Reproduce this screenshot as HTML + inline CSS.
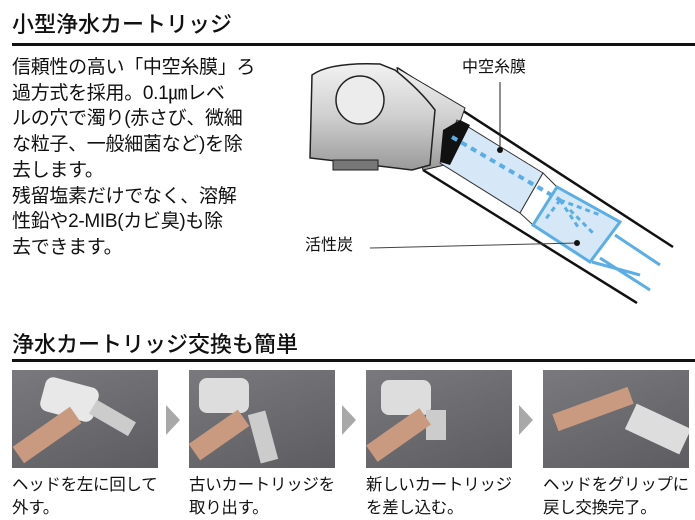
<!DOCTYPE html>
<html><head><meta charset="utf-8"><style>
body{margin:0;width:695px;height:519px;background:#fff;position:relative;overflow:hidden;font-family:"Liberation Sans","Noto Sans CJK JP",sans-serif;color:#111}
.a{position:absolute;white-space:nowrap}
.h{font-size:22px;font-weight:500}
.rule{position:absolute;left:12px;right:0;height:3px;background:#111}
.body{left:12px;top:55px;font-size:19px;line-height:25.7px;letter-spacing:-0.3px}
.ph{position:absolute;top:370px;height:98px;width:146px;background:linear-gradient(160deg,#7a7a7e,#5c5c61);overflow:hidden}
.cap{position:absolute;top:474px;font-size:16.5px;line-height:23px;white-space:nowrap;letter-spacing:-0.3px}
.arr{position:absolute;top:405px;width:0;height:0;border-top:15px solid transparent;border-bottom:15px solid transparent;border-left:14px solid #a8a8a8}
</style></head><body>
<div class="a h" style="left:12px;top:7px">小型浄水カートリッジ</div>
<div class="rule" style="top:43px"></div>
<div class="a body">信頼性の高い「中空糸膜」ろ<br>過方式を採用。0.1㎛レベ<br>ルの穴で濁り(赤さび、微細<br>な粒子、一般細菌など)を除<br>去します。<br>残留塩素だけでなく、溶解<br>性鉛や2-MIB(カビ臭)も除<br>去できます。</div>

<svg class="a" style="left:0;top:0" width="695" height="330" viewBox="0 0 695 330">
<defs><linearGradient id="g" x1="0" y1="0" x2="0" y2="1"><stop offset="0" stop-color="#f2f2f2"/><stop offset=".5" stop-color="#cfcfcf"/><stop offset="1" stop-color="#9a9a9a"/></linearGradient></defs>
<path d="M397,68 L673,247 M423,170 L637,303" stroke="#111" stroke-width="2.5" fill="none"/>
<path d="M397,68 L465,108 L445,165 L423,170 Z" fill="url(#g)" stroke="#222"/>
<path d="M312,75 Q330,62 380,64 L395,70 Q420,90 435,110 L430,165 L412,170 L345,162 L310,158 Z" fill="url(#g)" stroke="#222" stroke-width="1.5"/>
<circle cx="360" cy="100" r="24" fill="#ececec" stroke="#222" stroke-width="1.5"/>
<rect x="333" y="160" width="45" height="10" fill="#777" stroke="#222"/>
<path d="M457,120 L543,173 L520,213 L440,163 Z" fill="#d6e8f7" stroke="#333"/>
<path d="M443,130 L460,120 L470,125 L450,165 L440,162 Z" fill="#111"/>
<path d="M543,173 L557,187 L533,225 L520,213 Z" fill="#fff" stroke="#333"/>
<path d="M557,187 L620,222 L590,262 L533,225 Z" fill="#d6e8f7" stroke="#5aaee6" stroke-width="3"/>
<path d="M592,262 L640,275 M600,258 L650,290 M615,235 L660,265" stroke="#5aaee6" stroke-width="3" fill="none"/>
<path d="M452,137 L560,200" stroke="#5aaee6" stroke-width="4" stroke-dasharray="6,5"/>
<path d="M560,200 L600,215 M560,200 L580,230 M560,200 L545,220 M570,210 L595,235" stroke="#5aaee6" stroke-width="3" stroke-dasharray="5,4"/>
<line x1="500" y1="82" x2="500" y2="150" stroke="#222"/><circle cx="500" cy="150" r="3" fill="#111"/>
<line x1="370" y1="248" x2="577" y2="243" stroke="#444"/><circle cx="577" cy="243" r="3" fill="#111"/>
<text x="462" y="72" font-size="16" font-family="Liberation Sans,Noto Sans CJK JP,sans-serif" fill="#111">中空糸膜</text>
<text x="305" y="250" font-size="16" font-family="Liberation Sans,Noto Sans CJK JP,sans-serif" fill="#111">活性炭</text>
</svg>

<div class="a h" style="left:12px;top:327px">浄水カートリッジ交換も簡単</div>
<div class="rule" style="top:359px"></div>

<div class="ph" style="left:12px"><div class="a" style="left:30px;top:12px;width:55px;height:35px;background:#e8e8e8;border-radius:8px;transform:rotate(15deg)"></div><div class="a" style="left:78px;top:40px;width:45px;height:16px;background:#ccc;transform:rotate(30deg)"></div><div class="a" style="left:0;top:55px;width:70px;height:20px;background:#c99a80;transform:rotate(-35deg)"></div></div>
<div class="arr" style="left:166px"></div>
<div class="ph" style="left:189px"><div class="a" style="left:10px;top:8px;width:50px;height:35px;background:#ddd;border-radius:8px"></div><div class="a" style="left:65px;top:42px;width:18px;height:50px;background:#ccc;transform:rotate(-15deg)"></div><div class="a" style="left:0;top:55px;width:60px;height:20px;background:#c99a80;transform:rotate(-35deg)"></div></div>
<div class="arr" style="left:342px"></div>
<div class="ph" style="left:366px"><div class="a" style="left:15px;top:10px;width:50px;height:35px;background:#ddd;border-radius:8px"></div><div class="a" style="left:60px;top:40px;width:20px;height:30px;background:#ccc"></div><div class="a" style="left:0;top:55px;width:65px;height:20px;background:#c99a80;transform:rotate(-35deg)"></div></div>
<div class="arr" style="left:519px"></div>
<div class="ph" style="left:543px"><div class="a" style="left:10px;top:30px;width:80px;height:18px;background:#c99a80;transform:rotate(-20deg)"></div><div class="a" style="left:85px;top:45px;width:60px;height:28px;background:#ddd;transform:rotate(25deg)"></div></div>

<div class="cap" style="left:12px">ヘッドを左に回して<br>外す。</div>
<div class="cap" style="left:189px">古いカートリッジを<br>取り出す。</div>
<div class="cap" style="left:366px">新しいカートリッジ<br>を差し込む。</div>
<div class="cap" style="left:543px">ヘッドをグリップに<br>戻し交換完了。</div>
</body></html>
